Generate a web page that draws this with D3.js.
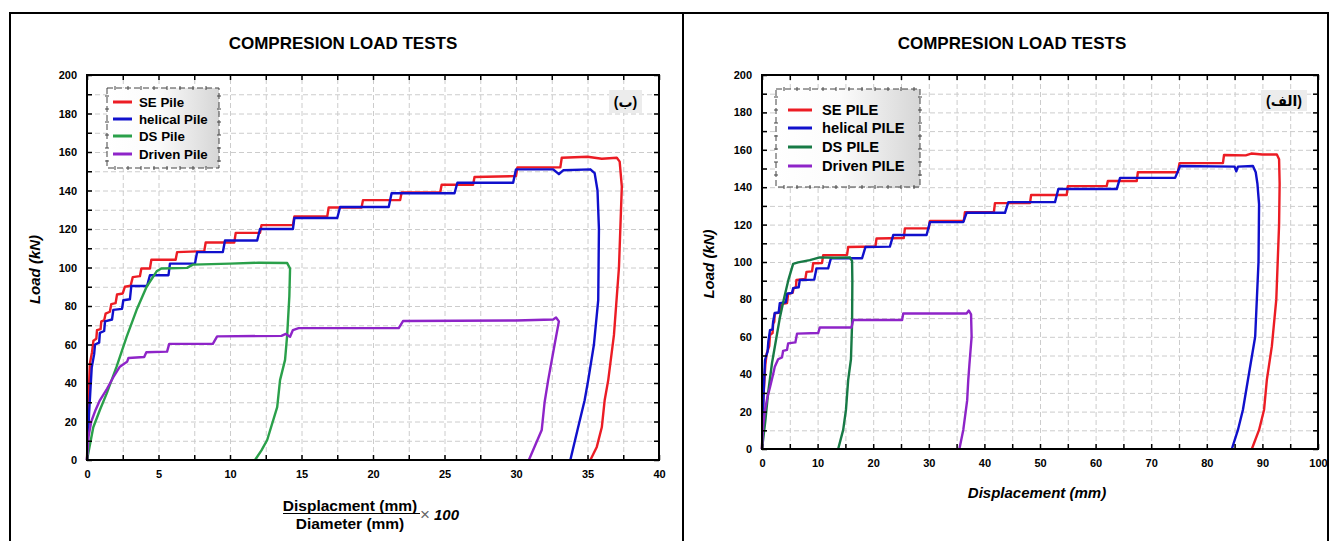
<!DOCTYPE html>
<html><head><meta charset="utf-8">
<script src="https://cdn.jsdelivr.net/npm/d3@7"></script>
<style>
body{margin:0;background:#fff;}
svg{display:block;font-family:"Liberation Sans",Arial,"DejaVu Sans",sans-serif;}
</style></head><body>
<svg id="fig" width="1336" height="541"></svg>
<script>
// ---------- data ----------
const namesLeft  = ["SE Pile", "helical Pile", "DS Pile", "Driven Pile"];
const namesRight = ["SE PILE", "helical PILE", "DS PILE", "Driven PILE"];
const colorsLeft  = ["#ec1c24", "#1010cc", "#2aa04a", "#8e24c8"];
const colorsRight = ["#ec1c24", "#1010cc", "#177a45", "#8e24c8"];

const xLabelsLeft  = [0, 5, 10, 15, 20, 25, 30, 35, 40];
const xMinorLeft   = [0, 2.5, 5, 7.5, 10, 12.5, 15, 17.5, 20, 22.5, 25, 27.5, 30, 32.5, 35, 37.5, 40];
const xLabelsRight = [0, 10, 20, 30, 40, 50, 60, 70, 80, 90, 100];
const xMinorRight  = [0, 5, 10, 15, 20, 25, 30, 35, 40, 45, 50, 55, 60, 65, 70, 75, 80, 85, 90, 95, 100];
const yLabels = [0, 20, 40, 60, 80, 100, 120, 140, 160, 180, 200];
const yMinor  = [0, 10, 20, 30, 40, 50, 60, 70, 80, 90, 100, 110, 120, 130, 140, 150, 160, 170, 180, 190, 200];

// (displacement / diameter x 100, load kN)
const seRatio = [[0,0],[0.1,30],[0.2,50],[0.35,56],[0.45,62],[0.65,63],[0.7,67.5],[0.95,68],[1.0,72],[1.2,72.5],[1.3,76],[1.6,77],[1.7,81],[2.0,81.5],[2.1,86],[2.5,86.5],[2.65,90],[3.05,90.5],[3.2,95],[3.7,95.5],[3.8,99.5],[4.4,99.5],[4.5,104],[6.2,104],[6.3,108],[8.2,108.5],[8.3,113],[10.3,113],[10.4,118],[12.1,118],[12.2,122],[14.4,122],[14.5,126.5],[16.8,126.5],[16.9,131.2],[19.2,131.2],[19.3,135],[21.9,135],[22.0,139],[24.7,139],[24.8,143],[27.0,143],[27.1,147],[30.0,147.5],[30.1,152],[33.1,152],[33.2,157],[35.0,157.5],[36.0,156.5],[37.05,157],[37.25,155],[37.4,142],[37.2,100],[36.85,65],[36.45,41.5],[36.2,31],[36.0,17],[35.65,6.8],[35.2,0]];
const helicalRatio = [[0,0],[0.15,25],[0.33,48],[0.5,55],[0.56,60],[0.85,61],[0.9,66],[1.2,67],[1.26,72],[1.75,73],[1.84,78],[2.45,78.5],[2.54,83],[3.0,83.5],[3.1,90.4],[4.2,90.4],[4.4,96],[5.7,96],[5.8,102],[7.55,102],[7.7,108],[9.5,108],[9.65,114],[11.9,114],[12.1,120],[14.4,120],[14.5,125.7],[17.5,125.7],[17.7,131.4],[21.1,131.4],[21.3,138.6],[25.7,138.6],[25.9,144],[29.8,144],[30.0,151],[32.6,151],[33.0,148.5],[33.3,150.5],[35.2,151],[35.5,149],[35.7,140],[35.8,120],[35.75,83],[35.45,60],[35.05,41.5],[34.8,31],[34.3,15.6],[33.8,0]];
const dsRatio = [[0,0],[0.44,17],[0.9,26],[1.38,34.6],[2.07,48.5],[2.77,64],[3.47,78],[4.17,90],[4.87,98],[5.2,99.5],[7.0,99.8],[7.4,101.5],[10,102],[12,102.5],[14.0,102.3],[14.2,99.5],[14.15,85],[14.0,65],[13.85,52],[13.5,41.5],[13.3,27.5],[12.6,10.4],[12.2,5],[11.75,0]];
const drivenRatio = [[0,0],[0.1,12],[0.3,20],[0.6,26],[0.9,31],[1.4,37],[1.84,43],[2.3,48.5],[2.8,51],[2.9,53],[4.0,53.5],[4.15,56],[5.6,56.3],[5.75,60.3],[8.8,60.3],[9.1,64.2],[13.6,64.5],[13.9,65.5],[14.2,64],[14.4,67.5],[14.8,68.5],[21.8,68.5],[22.1,72.2],[30,72.5],[32.6,73],[32.8,74],[33.0,72],[32.7,60],[32.25,41.5],[32.0,30],[31.8,15.6],[30.9,0]];

// (displacement mm, load kN)
const seMm = [[0,0],[0.2,25],[0.6,45],[0.84,51],[1.3,55],[1.44,61],[1.9,62],[2.0,67],[2.2,68],[2.3,72.5],[3.3,73],[3.5,77.5],[4.5,78],[4.7,83],[5.5,83.5],[5.7,86],[6.1,86.5],[6.2,90.4],[7.8,91],[8.0,94.7],[9.0,95],[9.2,99.3],[10.8,99.5],[11.0,103.6],[15.3,103.8],[15.5,108],[20.4,108.3],[20.6,112.6],[25.5,112.8],[25.7,118],[30.0,118],[30.2,122],[36.3,122],[36.5,126.6],[41.7,126.6],[41.9,131.5],[48.2,131.5],[48.4,135.8],[54.8,135.8],[55.0,140.6],[62.0,140.6],[62.2,143.3],[67.4,143.3],[67.6,148],[74.8,148],[75.1,152.9],[82.9,152.9],[83.1,157.2],[87,157],[88,158],[90,157.5],[92.6,157.5],[93.0,155],[93.1,142],[93.0,120],[92.5,80],[91.7,55],[90.8,37],[90.3,21],[89.4,10.2],[88.1,0]];
const helicalMm = [[0,0],[0.3,30],[0.54,47.6],[1.0,52],[1.14,57.4],[1.44,63.6],[1.9,64],[2.0,68],[2.3,72.7],[3.0,73],[3.2,78],[4.3,78.5],[4.5,83],[5.4,83.5],[5.6,86],[6.6,86.5],[6.8,90.4],[9.4,90.6],[9.8,96.6],[11.9,96.6],[12.4,102],[18.0,102],[18.6,108],[23.0,108.2],[23.6,114.4],[29.6,114.4],[30.2,121.3],[36.2,121.3],[36.8,126.3],[43.7,126.3],[44.3,132],[52.7,132],[53.3,139],[63.8,139],[64.4,145],[74.3,145],[75.2,151.3],[85.0,151],[85.3,148.5],[85.6,151],[88.3,151.3],[88.8,148],[89.1,142],[89.4,131],[89.3,100],[88.7,60],[87.4,37],[86.5,21],[85.6,10.2],[84.5,0]];
const dsMm = [[0,0],[0.6,15],[1.1,30],[1.8,46],[2.5,58],[3.2,70],[4.0,81],[4.8,91],[5.6,99],[6.5,99.8],[8.6,101],[10.4,102.5],[13,102.3],[15.8,102.5],[16.2,100.5],[16.25,90],[16.2,67],[16.0,48],[15.5,37],[15.1,20.9],[14.6,10.2],[13.7,0]];
const drivenMm = [[0,0],[0.2,12],[0.54,21],[1.0,28],[1.44,33],[2.0,40],[2.3,44],[2.9,48],[3.6,49],[3.8,52.5],[4.5,53],[4.7,56.5],[6.0,57],[6.3,61.7],[10.1,62],[10.4,65],[16.1,65],[16.4,69],[25.2,69],[25.4,72.5],[36.8,72.5],[37.2,74],[37.6,72],[37.7,60],[37.3,45],[37.1,37],[36.9,26],[36.2,10.2],[35.5,0]];

// ---------- drawing ----------
const svg = d3.select("#fig");
svg.append("rect").attr("width",1336).attr("height",541).attr("fill","#fff");

const defs = svg.append("defs");
const grad = defs.append("linearGradient").attr("id","legendFill").attr("x1","0").attr("x2","1").attr("y1","0").attr("y2","0");
grad.append("stop").attr("offset","0%").attr("stop-color","#ffffff");
grad.append("stop").attr("offset","45%").attr("stop-color","#fbfbfb");
grad.append("stop").attr("offset","100%").attr("stop-color","#d6d6d6");

// figure frame: outer box and the divider between the two panels
const frame = svg.append("g").attr("stroke","#000").attr("stroke-width",2).attr("fill","none");
frame.append("path").attr("d","M10,541 V13 H1328 V541");
frame.append("line").attr("x1",683).attr("x2",683).attr("y1",13).attr("y2",541);

function drawPanel(cfg) {
  const g = svg.append("g");
  const x = d3.scaleLinear().domain([0, cfg.xMax]).range([cfg.left, cfg.right]);
  const y = d3.scaleLinear().domain([0, 200]).range([cfg.bottom, cfg.top]);
  const h = cfg.bottom - cfg.top, w = cfg.right - cfg.left;

  // title
  g.append("text").attr("x", cfg.titleX).attr("y", 49).attr("text-anchor","middle")
    .attr("font-size","17px").attr("font-weight","bold").text("COMPRESION LOAD TESTS");

  // dashed grid
  const styleGrid = s => {
    s.select(".domain").remove();
    s.selectAll("line").attr("stroke","#cccccc").attr("stroke-width",1).attr("stroke-dasharray","5,3");
  };
  g.append("g").attr("transform",`translate(0,${cfg.bottom})`)
    .call(d3.axisBottom(x).tickValues(cfg.xMinor).tickSize(-h).tickFormat("")).call(styleGrid);
  g.append("g").attr("transform",`translate(${cfg.left},0)`)
    .call(d3.axisLeft(y).tickValues(yMinor).tickSize(-w).tickFormat("")).call(styleGrid);

  // corner tag
  g.append("rect").attr("x", cfg.tag.x).attr("y", cfg.tag.y).attr("width", cfg.tag.w).attr("height", cfg.tag.h).attr("fill","#ececec");
  g.append("text").attr("x", cfg.tag.x + cfg.tag.w/2).attr("y", cfg.tag.y + cfg.tag.h/2 + 5)
    .attr("text-anchor","middle").attr("font-size","14px").attr("font-weight","bold").text(cfg.tag.text);

  // legend
  const L = cfg.legend;
  g.append("rect").attr("x",L.x).attr("y",L.y).attr("width",L.w).attr("height",L.h)
    .attr("fill","url(#legendFill)").attr("stroke","#444").attr("stroke-width",1).attr("stroke-dasharray","6,3");
  const marks = g.append("g").attr("stroke","#444").attr("stroke-width",1);
  for (let px = L.x + 8; px < L.x + L.w - 4; px += 13) {
    marks.append("line").attr("x1",px).attr("x2",px).attr("y1",L.y-2).attr("y2",L.y+2);
    marks.append("line").attr("x1",px).attr("x2",px).attr("y1",L.y+L.h-2).attr("y2",L.y+L.h+2);
  }
  for (let py = L.y + 8; py < L.y + L.h - 4; py += 13) {
    marks.append("line").attr("y1",py).attr("y2",py).attr("x1",L.x-2).attr("x2",L.x+2);
    marks.append("line").attr("y1",py).attr("y2",py).attr("x1",L.x+L.w-2).attr("x2",L.x+L.w+2);
  }
  cfg.names.forEach((n, i) => {
    const yy = L.rows[i];
    g.append("line").attr("x1",L.lx1).attr("x2",L.lx2).attr("y1",yy).attr("y2",yy)
      .attr("stroke",cfg.colors[i]).attr("stroke-width",3);
    g.append("text").attr("x",L.tx).attr("y",yy + L.fs*0.36).attr("font-size",L.fs+"px")
      .attr("font-weight","bold").text(n);
  });

  // curves
  const line = d3.line().x(d => x(d[0])).y(d => y(d[1]));
  cfg.series.forEach((s, i) => {
    g.append("path").datum(s).attr("d", line).attr("fill","none")
      .attr("stroke", cfg.colors[i]).attr("stroke-width", 2.4).attr("stroke-linejoin","round");
  });

  // axes with inward ticks
  const styleAxis = s => {
    s.select(".domain").remove();
    s.selectAll("line").attr("stroke","#000").attr("stroke-width",1.5);
    s.selectAll("text").attr("font-size","11px").attr("font-weight","bold").attr("fill","#000")
      .attr("font-family","'Liberation Sans', Arial, sans-serif");
  };
  const lblX = v => cfg.xLabels.includes(v) ? String(v) : "";
  const lblY = v => yLabels.includes(v) ? String(v) : "";
  g.append("g").attr("transform",`translate(0,${cfg.bottom})`)
    .call(d3.axisBottom(x).tickValues(cfg.xMinor).tickSize(-5).tickPadding(10).tickFormat(lblX)).call(styleAxis);
  g.append("g").attr("transform",`translate(0,${cfg.top})`)
    .call(d3.axisTop(x).tickValues(cfg.xMinor).tickSize(-5).tickFormat("")).call(styleAxis);
  g.append("g").attr("transform",`translate(${cfg.left},0)`)
    .call(d3.axisLeft(y).tickValues(yMinor).tickSize(-5).tickPadding(10).tickFormat(lblY)).call(styleAxis);
  g.append("g").attr("transform",`translate(${cfg.right},0)`)
    .call(d3.axisRight(y).tickValues(yMinor).tickSize(-5).tickFormat("")).call(styleAxis);
  g.append("rect").attr("x",cfg.left).attr("y",cfg.top).attr("width",w).attr("height",h)
    .attr("fill","none").attr("stroke","#000").attr("stroke-width",2);

  // y-axis title
  g.append("text").attr("transform",`translate(${cfg.yTitleX},${(cfg.top+cfg.bottom)/2 + 2}) rotate(-90)`)
    .attr("text-anchor","middle").attr("font-size","15px").attr("font-weight","bold").attr("font-style","italic")
    .text("Load (kN)");
  return g;
}

drawPanel({
  left: 87, right: 659, top: 75, bottom: 460, xMax: 40, titleX: 343,
  xMinor: xMinorLeft, xLabels: xLabelsLeft, yTitleX: 40,
  names: namesLeft, colors: colorsLeft,
  series: [seRatio, helicalRatio, dsRatio, drivenRatio],
  tag: {x: 609, y: 90, w: 33, h: 23, text: "(ب)"},
  legend: {x: 107, y: 88, w: 112, h: 80, rows: [102, 119, 136, 154], lx1: 113, lx2: 132, tx: 139, fs: 13.3}
});

drawPanel({
  left: 762, right: 1318, top: 75, bottom: 449, xMax: 100, titleX: 1012,
  xMinor: xMinorRight, xLabels: xLabelsRight, yTitleX: 714,
  names: namesRight, colors: colorsRight,
  series: [seMm, helicalMm, dsMm, drivenMm],
  tag: {x: 1261, y: 90, w: 46, h: 21, text: "(الف)"},
  legend: {x: 776, y: 89, w: 144, h: 98, rows: [110, 128, 147, 166], lx1: 788, lx2: 812, tx: 822, fs: 14.7}
});

// x-axis titles
svg.append("text").attr("x", 1037).attr("y", 498).attr("text-anchor","middle")
  .attr("font-size","15px").attr("font-weight","bold").attr("font-style","italic").text("Displacement (mm)");

const frac = svg.append("g");
frac.append("text").attr("x", 350).attr("y", 511).attr("text-anchor","middle")
  .attr("font-size","15.5px").attr("font-weight","bold").text("Displacment (mm)");
frac.append("line").attr("x1", 283).attr("x2", 420).attr("y1", 513.5).attr("y2", 513.5)
  .attr("stroke","#000").attr("stroke-width",1.2);
frac.append("text").attr("x", 350).attr("y", 528.5).attr("text-anchor","middle")
  .attr("font-size","15.5px").attr("font-weight","bold").text("Diameter (mm)");
frac.append("text").attr("x", 420).attr("y", 520).attr("font-size","17px").attr("fill","#666").text("×");
frac.append("text").attr("x", 434).attr("y", 520).attr("font-size","15px").attr("font-weight","bold")
  .attr("font-style","italic").text("100");
</script>
</body></html>
